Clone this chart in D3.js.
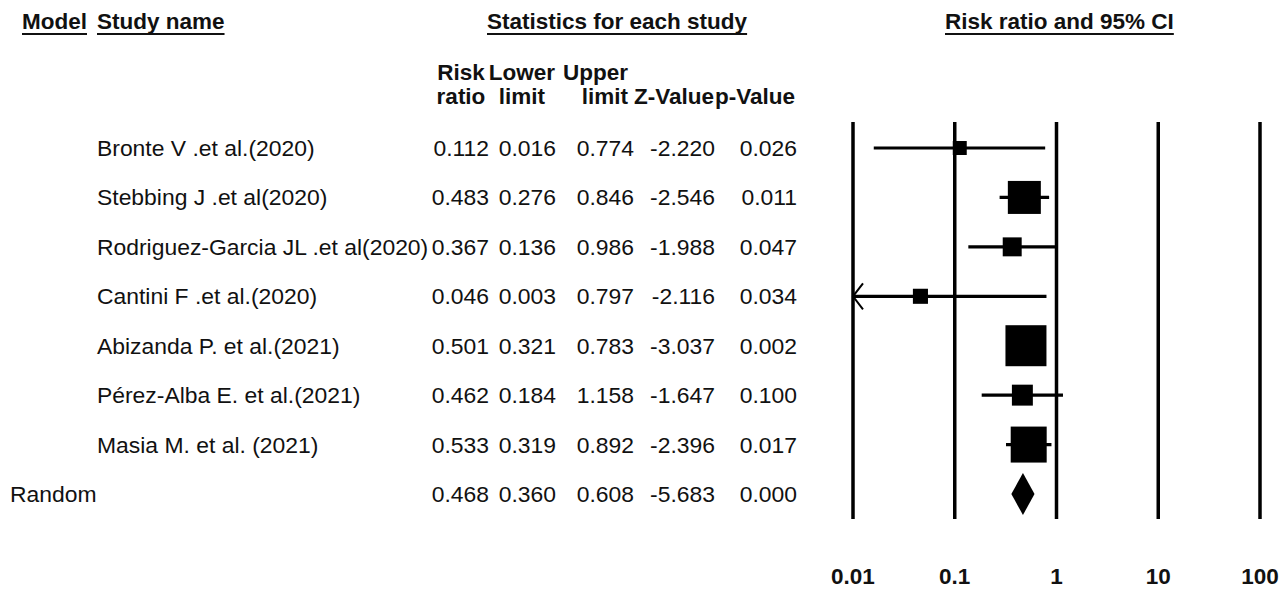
<!DOCTYPE html>
<html>
<head>
<meta charset="utf-8">
<script src="https://cdn.jsdelivr.net/npm/d3@7"></script>
<style>
  html, body { margin: 0; padding: 0; background: #fff; }
  svg { display: block; }
  text { font-family: "Liberation Sans", Arial, sans-serif; fill: #111; }
</style>
</head>
<body>
<svg id="chart" width="1288" height="589"></svg>
<script>
// ---- data ----
const studies = [
  "Bronte V .et al.(2020)",
  "Stebbing J .et al(2020)",
  "Rodriguez-Garcia JL .et al(2020)",
  "Cantini F .et al.(2020)",
  "Abizanda P. et al.(2021)",
  "Pérez-Alba E. et al.(2021)",
  "Masia M. et al. (2021)"
];
const riskRatio = [0.112, 0.483, 0.367, 0.046, 0.501, 0.462, 0.533];
const lowerLimit = [0.016, 0.276, 0.136, 0.003, 0.321, 0.184, 0.319];
const upperLimit = [0.774, 0.846, 0.986, 0.797, 0.783, 1.158, 0.892];
const zValue = ["-2.220", "-2.546", "-1.988", "-2.116", "-3.037", "-1.647", "-2.396"];
const pValue = ["0.026", "0.011", "0.047", "0.034", "0.002", "0.100", "0.017"];
const relWeight = [3.7, 20.6, 6.8, 4.3, 31.8, 8.3, 24.5];
const summaryLabel = "Random";
const summaryRR = 0.468, summaryLower = 0.360, summaryUpper = 0.608;
const summaryZ = "-5.683", summaryP = "0.000";
const tickValues = [0.01, 0.1, 1, 10, 100];
const tickLabels = ["0.01", "0.1", "1", "10", "100"];

// ---- layout ----
const svg = d3.select("#chart");
const FS = 22.5;
const FSR = 22.9;
const fmt = d3.format(".3f");

const x = d3.scaleLog().domain([0.01, 100]).range([853, 1260]);
const rowY = d3.scalePoint().domain(d3.range(8)).range([148, 494]);
const side = d3.scaleSqrt().domain([0, d3.max(relWeight)]).range([0, 41]);

// Titles with underline
const titles = [
  {t: "Model", x: 22},
  {t: "Study name", x: 97},
  {t: "Statistics for each study", x: 487},
  {t: "Risk ratio and 95% CI", x: 945}
];
titles.forEach(d => {
  const tx = svg.append("text").attr("x", d.x).attr("y", 29)
    .attr("font-size", FS).attr("font-weight", "bold").text(d.t);
  const w = tx.node().getComputedTextLength();
  svg.append("line").attr("x1", d.x).attr("x2", d.x + w)
    .attr("y1", 34).attr("y2", 34).attr("stroke", "#111").attr("stroke-width", 2);
});

// Column headers
const headers = [
  {t: "Risk", x: 461, y: 80, a: "middle"},
  {t: "ratio", x: 461, y: 104, a: "middle"},
  {t: "Lower", x: 522, y: 80, a: "middle"},
  {t: "limit", x: 522, y: 104, a: "middle"},
  {t: "Upper", x: 628, y: 80, a: "end"},
  {t: "limit", x: 628, y: 104, a: "end"},
  {t: "Z-Value", x: 714, y: 104, a: "end"},
  {t: "p-Value", x: 715, y: 104, a: "start"}
];
svg.selectAll("text.hdr").data(headers).join("text").attr("class", "hdr")
  .attr("x", d => d.x).attr("y", d => d.y).attr("text-anchor", d => d.a)
  .attr("font-size", FS).attr("font-weight", "bold").text(d => d.t);

// Table rows
const colEnds = [489, 556, 634, 715, 797];
const rows = studies.map((s, i) => ({
  name: s, nx: 97,
  vals: [fmt(riskRatio[i]), fmt(lowerLimit[i]), fmt(upperLimit[i]), zValue[i], pValue[i]]
}));
rows.push({name: summaryLabel, nx: 10,
  vals: [fmt(summaryRR), fmt(summaryLower), fmt(summaryUpper), summaryZ, summaryP]});

rows.forEach((r, i) => {
  const y = rowY(i) + 8;
  svg.append("text").attr("x", r.nx).attr("y", y).attr("font-size", FSR).text(r.name);
  r.vals.forEach((v, j) => {
    svg.append("text").attr("x", colEnds[j]).attr("y", y).attr("text-anchor", "end")
      .attr("font-size", FSR).text(v);
  });
});

// Grid lines
svg.selectAll("line.grid").data(tickValues).join("line").attr("class", "grid")
  .attr("x1", d => x(d)).attr("x2", d => x(d))
  .attr("y1", 122).attr("y2", 519)
  .attr("stroke", "#000").attr("stroke-width", 3.5);

// Axis labels
svg.selectAll("text.tick").data(tickValues).join("text").attr("class", "tick")
  .attr("x", d => x(d)).attr("y", 584).attr("text-anchor", "middle")
  .attr("font-size", FS).attr("font-weight", "bold")
  .text((d, i) => tickLabels[i]);

// CI lines and squares
const dom = x.domain();
studies.forEach((s, i) => {
  const y = rowY(i);
  const lo = Math.max(lowerLimit[i], dom[0]);
  const hi = Math.min(upperLimit[i], dom[1]);
  svg.append("line").attr("x1", x(lo)).attr("x2", x(hi))
    .attr("y1", y).attr("y2", y).attr("stroke", "#000").attr("stroke-width", 3.2);
  if (lowerLimit[i] < dom[0]) {
    const x0 = x(dom[0]);
    svg.append("path")
      .attr("d", `M${x0 + 10},${y - 13} L${x0},${y} L${x0 + 10},${y + 13}`)
      .attr("fill", "none").attr("stroke", "#000").attr("stroke-width", 2);
  }
  const sd = side(relWeight[i]);
  svg.append("rect").attr("x", x(riskRatio[i]) - sd / 2).attr("y", y - sd / 2)
    .attr("width", sd).attr("height", sd).attr("fill", "#000");
});

// Summary diamond
const yS = rowY(7);
svg.append("path")
  .attr("d", `M${x(summaryLower)},${yS} L${x(summaryRR)},${yS - 21} L${x(summaryUpper)},${yS} L${x(summaryRR)},${yS + 21} Z`)
  .attr("fill", "#000");
</script>
</body>
</html>
